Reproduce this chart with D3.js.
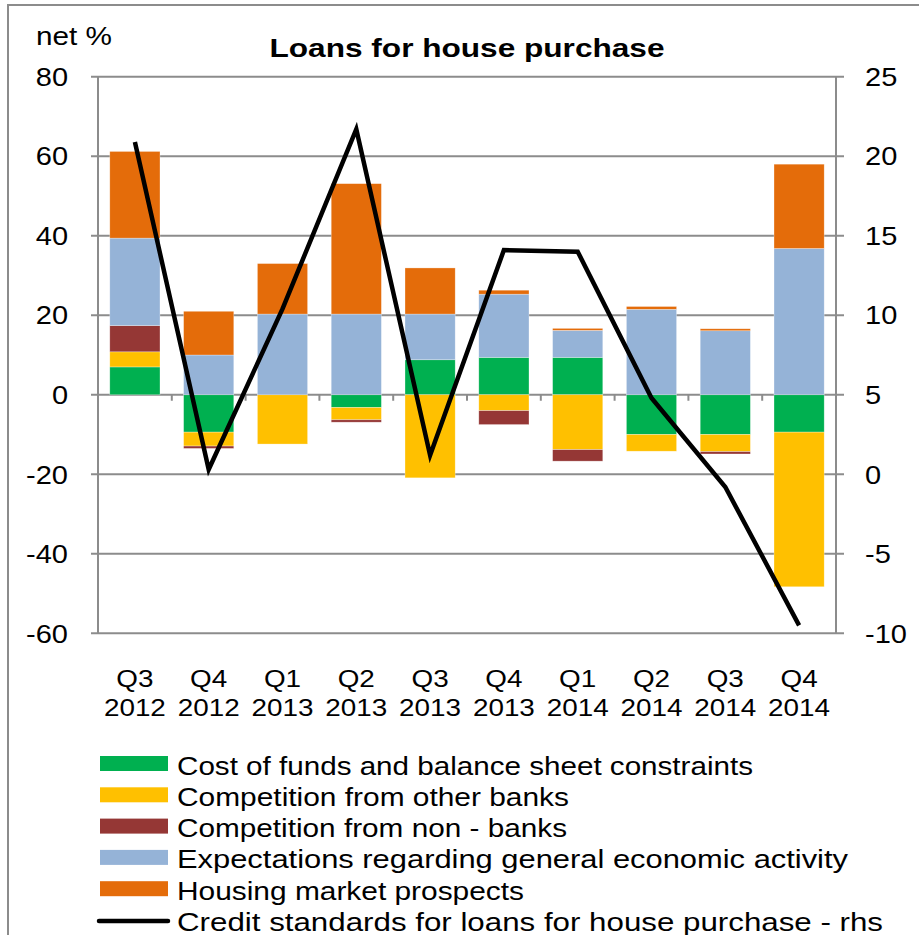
<!DOCTYPE html>
<html><head><meta charset="utf-8">
<script src="https://cdn.jsdelivr.net/npm/d3@7"></script>
<style>
body{margin:0;background:#fff;}
text{font-family:"Liberation Sans",Arial,sans-serif;fill:#000;}
</style></head><body>
<svg id="c" width="919" height="935"></svg>
<script>
const categories = ["Q3 2012","Q4 2012","Q1 2013","Q2 2013","Q3 2013","Q4 2013","Q1 2014","Q2 2014","Q3 2014","Q4 2014"];
const costOfFunds = [7, -9.4, 0, -3.2, 8.8, 9.4, 9.4, -10, -10, -9.4];
const compBanks = [3.8, -3.5, -12.4, -3.1, -20.9, -4, -13.8, -4.2, -4.3, -38.9];
const compNonBanks = [6.6, -0.6, 0, -0.6, 0, -3.5, -2.9, 0, -0.6, 0];
const expectations = [22, 10, 20.3, 20.3, 11.5, 15.9, 6.8, 21.5, 16.1, 36.8];
const housing = [21.8, 11, 12.7, 32.8, 11.6, 1, 0.5, 0.7, 0.5, 21.2];
const creditStandards = [20.9, 0.3, 10.4, 21.7, 1.2, 14.1, 14.0, 4.8, -0.8, -9.5];
const leftTicks = [80, 60, 40, 20, 0, -20, -40, -60];
const rightTicks = [25, 20, 15, 10, 5, 0, -5, -10];
const seriesNames = ["Cost of funds and balance sheet constraints","Competition from other banks","Competition from non - banks","Expectations regarding general economic activity","Housing market prospects"];
const lineName = "Credit standards for loans for house purchase - rhs";
const colors = ["#00B050","#FFC000","#953735","#95B3D7","#E46C0A"];

// horizontal stretch of text glyphs (style)
const STRETCH = 1.16;
function stretch(sel){
  sel.each(function(){
    const n = this; const w = n.getComputedTextLength();
    if (w > 0) { n.setAttribute("textLength", w*STRETCH); n.setAttribute("lengthAdjust","spacingAndGlyphs"); }
  });
}

const svg = d3.select("#c");
const gridColor = "#8c8c8c";
const L = 98, R = 836, T = 76.7, B = 633.3;

// outer frame
svg.append("rect").attr("x",8).attr("y",5).attr("width",930).attr("height",950)
  .attr("fill","none").attr("stroke",gridColor).attr("stroke-width",2);

const x = d3.scaleBand().domain(categories).range([L,R]).paddingInner(0.32).paddingOuter(0.16);
const yL = d3.scaleLinear().domain([-60,80]).range([B,T]);
const yR = d3.scaleLinear().domain([-10,25]).range([B,T]);

// gridlines
svg.append("g").selectAll("line").data(leftTicks).join("line")
  .attr("x1",L-7).attr("x2",R+8).attr("y1",d=>yL(d)).attr("y2",d=>yL(d))
  .attr("stroke",gridColor).attr("stroke-width",2);
// axis lines
svg.append("line").attr("x1",L).attr("x2",L).attr("y1",T).attr("y2",B).attr("stroke",gridColor).attr("stroke-width",2);
svg.append("line").attr("x1",R).attr("x2",R).attr("y1",T).attr("y2",B).attr("stroke",gridColor).attr("stroke-width",2);

// axis labels
const axL = d3.axisLeft(yL).tickValues(leftTicks).tickSize(0).tickPadding(30).tickFormat(d=>String(d));
const gL = svg.append("g").attr("transform",`translate(${L},0)`).call(axL);
gL.select(".domain").remove();
gL.selectAll("text").attr("font-size",25).attr("font-family","Liberation Sans, Arial").attr("dy","0.35em").call(stretch);
const axR = d3.axisRight(yR).tickValues(rightTicks).tickSize(0).tickPadding(29).tickFormat(d=>String(d));
const gR = svg.append("g").attr("transform",`translate(${R},0)`).call(axR);
gR.select(".domain").remove();
gR.selectAll("text").attr("font-size",25).attr("font-family","Liberation Sans, Arial").attr("dy","0.35em").call(stretch);

// category boundary minor ticks at zero line
const step = x.step();
svg.append("g").selectAll("line").data(categories.slice(1)).join("line")
  .attr("x1",d=>x(d)-x.paddingInner()*step/2).attr("x2",d=>x(d)-x.paddingInner()*step/2)
  .attr("y1",yL(0)).attr("y2",yL(0)+6).attr("stroke",gridColor).attr("stroke-width",2);

// stacked bars
const table = categories.map((c,i)=>({cat:c, s0:costOfFunds[i], s1:compBanks[i], s2:compNonBanks[i], s3:expectations[i], s4:housing[i]}));
const stack = d3.stack().keys(["s0","s1","s2","s3","s4"]).offset(d3.stackOffsetDiverging);
const stacked = stack(table);
svg.append("g").selectAll("g").data(stacked).join("g").attr("fill",(d,i)=>colors[i])
  .selectAll("rect").data(d=>d).join("rect")
  .attr("x",d=>x(d.data.cat)).attr("width",x.bandwidth())
  .attr("y",d=>yL(Math.max(d[0],d[1]))).attr("height",d=>Math.abs(yL(d[0])-yL(d[1])))
  .attr("stroke","#ffffff").attr("stroke-opacity",0.5).attr("stroke-width",0.6);

// line
const line = d3.line().x((d,i)=>x(categories[i])+x.bandwidth()/2).y(d=>yR(d));
svg.append("path").datum(creditStandards).attr("d",line).attr("fill","none")
  .attr("stroke","#000").attr("stroke-width",4.5).attr("stroke-linejoin","miter");

// x labels
const xg = svg.append("g");
categories.forEach(c=>{
  const cx = x(c)+x.bandwidth()/2;
  const p = c.split(" ");
  xg.append("text").attr("x",cx).attr("y",687).attr("text-anchor","middle").attr("font-size",24).text(p[0]);
  xg.append("text").attr("x",cx).attr("y",716).attr("text-anchor","middle").attr("font-size",24).text(p[1]);
});
xg.selectAll("text").call(stretch);

// titles
svg.append("text").attr("x",467).attr("y",57).attr("text-anchor","middle")
  .attr("font-size",25).attr("font-weight","bold").text("Loans for house purchase")
  .attr("textLength",395).attr("lengthAdjust","spacingAndGlyphs");
svg.append("text").attr("x",36).attr("y",45).attr("font-size",25).text("net %")
  .attr("textLength",76).attr("lengthAdjust","spacingAndGlyphs");

// legend
const ly0 = 763.5, lstep = 31.3;
const legendWidths = [576, 392, 390, 671, 347, 706];
const leg = svg.append("g");
seriesNames.forEach((n,i)=>{
  leg.append("rect").attr("x",100).attr("y",ly0+i*lstep-7.5).attr("width",68).attr("height",15).attr("fill",colors[i]);
  leg.append("text").attr("x",177).attr("y",ly0+i*lstep+11).attr("font-size",25).text(n)
    .attr("textLength",legendWidths[i]).attr("lengthAdjust","spacingAndGlyphs");
});
leg.append("line").attr("x1",99).attr("x2",168).attr("y1",ly0+5*lstep+1).attr("y2",ly0+5*lstep+1)
  .attr("stroke","#000").attr("stroke-width",4.5).attr("stroke-linecap","round");
leg.append("text").attr("x",177).attr("y",ly0+5*lstep+11).attr("font-size",25).text(lineName)
  .attr("textLength",legendWidths[5]).attr("lengthAdjust","spacingAndGlyphs");
</script></body></html>
